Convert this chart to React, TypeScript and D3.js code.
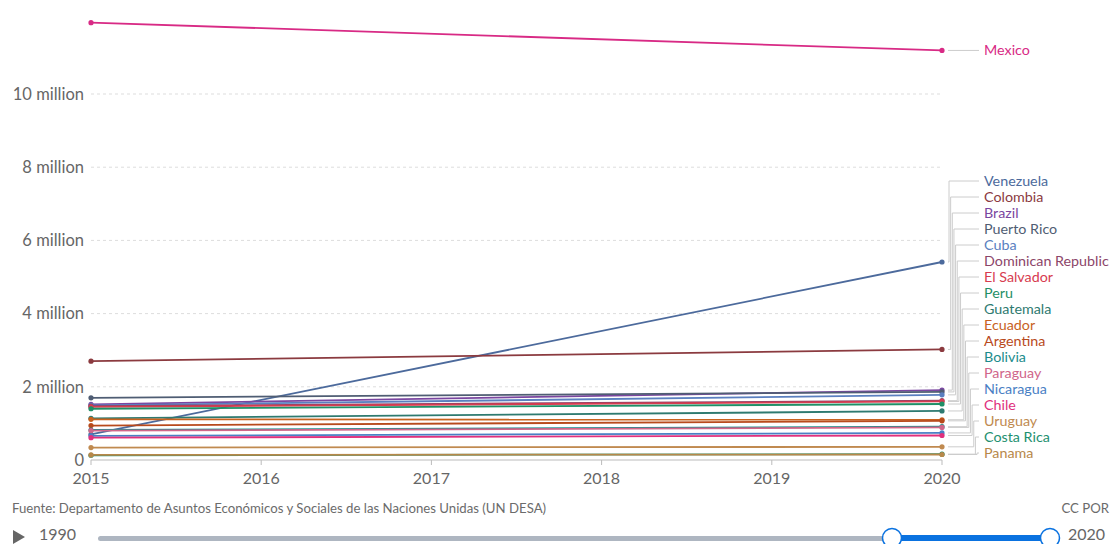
import React from 'react';
import * as d3 from 'd3';

const years = [2015, 2016, 2017, 2018, 2019, 2020];
const startYear = 2015;
const endYear = 2020;

const countries = [
  'Mexico', 'Venezuela', 'Colombia', 'Brazil', 'Puerto Rico', 'Cuba',
  'Dominican Republic', 'El Salvador', 'Peru', 'Guatemala', 'Ecuador',
  'Argentina', 'Bolivia', 'Paraguay', 'Nicaragua', 'Chile', 'Uruguay',
  'Costa Rica', 'Panama',
];

// emigrants, millions
const values2015 = [
  11.95, 0.70, 2.70, 1.52, 1.70, 1.49, 1.47, 1.45, 1.40, 1.14, 1.11,
  0.94, 0.82, 0.80, 0.66, 0.61, 0.34, 0.13, 0.14,
];
const values2020 = [
  11.19, 5.41, 3.02, 1.91, 1.86, 1.78, 1.62, 1.60, 1.53, 1.34, 1.10,
  1.07, 0.91, 0.89, 0.74, 0.67, 0.36, 0.16, 0.15,
];

const colors = [
  '#d82a85', '#4c6a9c', '#8b3a3f', '#7a46a0', '#4f5d73', '#5a7fc0',
  '#8c4569', '#d73c50', '#1f8f66', '#2e7a70', '#c8621e', '#b84a1c',
  '#1b8c8c', '#d0668a', '#4a80c4', '#e0307d', '#c08a50', '#1e9070',
  '#b7884a',
];

const yTicks = [0, 2, 4, 6, 8, 10];
const yTickLabels = ['0', '2 million', '4 million', '6 million', '8 million', '10 million'];

const source = 'Fuente: Departamento de Asuntos Económicos y Sociales de las Naciones Unidas (UN DESA)';

const W = 1111;
const H = 544;
const font = 'Lato, "Noto Sans", sans-serif';

const App: React.FC = () => {
  const x = d3.scaleLinear().domain([startYear, endYear]).range([91, 942]);
  const y = d3.scaleLinear().domain([0, 10]).range([460, 94]);

  const series = countries.map((name, i) => ({
    name,
    color: colors[i],
    points: [
      { year: startYear, value: values2015[i] },
      { year: endYear, value: values2020[i] },
    ],
  }));

  const line = d3
    .line<{ year: number; value: number }>()
    .x(d => x(d.year))
    .y(d => y(d.value));

  // label layout for the crowded group (everything except Mexico)
  const rest = series.slice(1).sort((a, b) => b.points[1].value - a.points[1].value);
  const labelTop = 181;
  const labelStep = 16;
  const labelX = 984;
  const connStart = x(endYear) + 6;
  const connEnd = labelX - 5;

  const mexico = series[0];

  return (
    <div style={{ position: 'absolute', left: 0, top: 0 }}>
      <svg width={W} height={H} style={{ display: 'block', fontFamily: font }}>
        <rect width={W} height={H} fill="#fff" />

        {/* grid + y labels */}
        {yTicks.map((t, i) => (
          <g key={t}>
            {t > 0 && (
              <line
                x1={91}
                x2={942}
                y1={y(t)}
                y2={y(t)}
                stroke="#ddd"
                strokeDasharray="3,3"
              />
            )}
            <text
              x={84}
              y={y(t)}
              dy="0.35em"
              textAnchor="end"
              fontSize={16.5}
              fill="#666"
            >
              {yTickLabels[i]}
            </text>
          </g>
        ))}

        {/* x axis */}
        <line x1={91} x2={942} y1={y(0)} y2={y(0)} stroke="#bbb" />
        {years.map(yr => (
          <g key={yr}>
            <line x1={x(yr)} x2={x(yr)} y1={y(0)} y2={y(0) + 5} stroke="#bbb" />
            <text x={x(yr)} y={y(0) + 24} textAnchor="middle" fontSize={16} fill="#666">
              {yr}
            </text>
          </g>
        ))}

        {/* lines */}
        {series.map(s => (
          <g key={s.name}>
            <path d={line(s.points) || ''} fill="none" stroke={s.color} strokeWidth={1.8} />
            {s.points.map(p => (
              <circle key={p.year} cx={x(p.year)} cy={y(p.value)} r={2.6} fill={s.color} />
            ))}
          </g>
        ))}

        {/* connectors + labels */}
        <line
          x1={connStart}
          x2={connEnd}
          y1={y(mexico.points[1].value)}
          y2={y(mexico.points[1].value)}
          stroke="#ccc"
        />
        <text
          x={labelX}
          y={y(mexico.points[1].value)}
          dy="0.35em"
          fontSize={14.3}
          fill={mexico.color}
        >
          {mexico.name}
        </text>

        {rest.map((s, i) => {
          const py = y(s.points[1].value);
          const ly = labelTop + i * labelStep;
          const vx = 949 + i * 1.65;
          return (
            <g key={s.name}>
              <path
                d={`M${connStart},${py}H${vx}V${ly}H${connEnd}`}
                fill="none"
                stroke="#ccc"
                strokeWidth={1}
              />
              <text x={labelX} y={ly} dy="0.35em" fontSize={14.3} fill={s.color}>
                {s.name}
              </text>
            </g>
          );
        })}

        {/* footer */}
        <text x={12} y={513} fontSize={13.2} fill="#6b6b6b">
          {source}
        </text>
        <text x={1109} y={513} textAnchor="end" fontSize={13.2} fill="#6b6b6b">
          CC POR
        </text>

        {/* timeline */}
        <path d="M13,530 L25,537 L13,544 Z" fill="#666" />
        <text x={39} y={540} fontSize={16} fill="#666">
          1990
        </text>
        <rect x={98} y={536} width={952} height={5} rx={2.5} fill="#aeb6c1" />
        <rect x={892} y={535} width={158} height={6} fill="#0a72e0" />
        <circle cx={892} cy={538} r={9.5} fill="#fff" stroke="#0a72e0" strokeWidth={1.5} />
        <circle cx={1050} cy={538} r={9.5} fill="#fff" stroke="#0a72e0" strokeWidth={1.5} />
        <text x={1068} y={540} fontSize={16} fill="#666">
          2020
        </text>
      </svg>
    </div>
  );
};

export default App;
